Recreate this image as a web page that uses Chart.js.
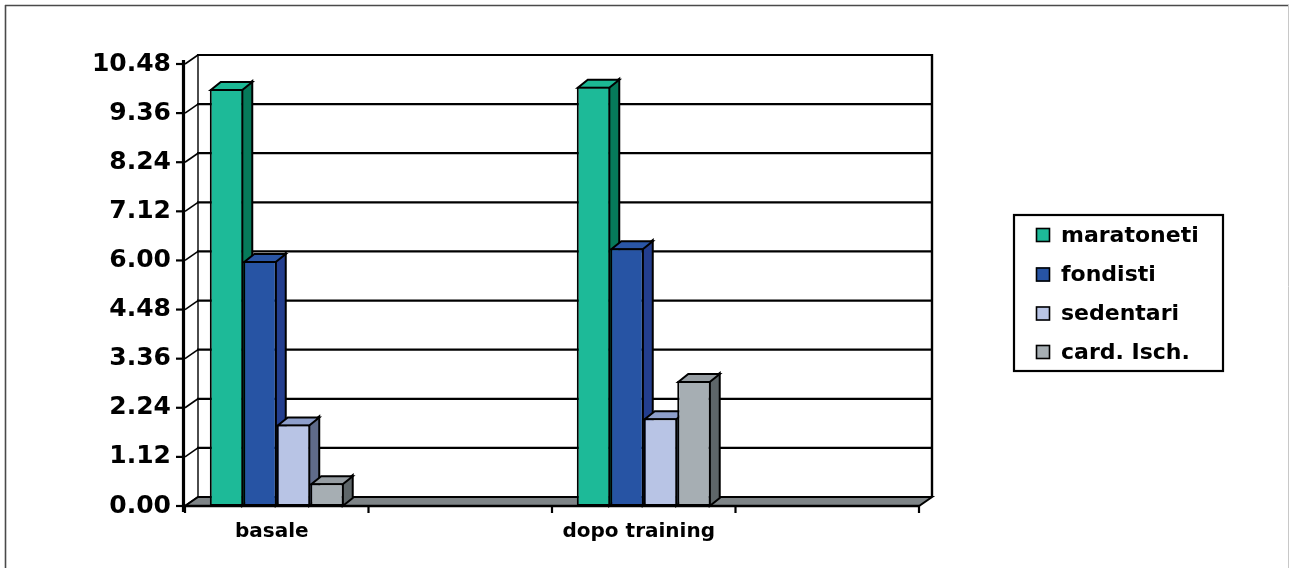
<!DOCTYPE html>
<html>
<head>
<meta charset="utf-8">
<script src="https://cdn.jsdelivr.net/npm/chart.js@4.4.1/dist/chart.umd.min.js"></script>
<style>
  html, body { margin: 0; padding: 0; background: #fff; }
  canvas { display: block; }
</style>
</head>
<body>
<canvas id="chart" width="1289" height="568"></canvas>
<script>
// Categories along the floor (two groups, with empty slots after each)
const categories = ['basale', '', 'dopo training', ''];
const seriesNames = ['maratoneti', 'fondisti', 'sedentari', 'card. Isch.'];

// Series values per category
const maratoneti = [9.91, null, 9.96, null];
const fondisti   = [5.98, null, 6.28, null];
const sedentari  = [1.86, null, 2.00, null];
const cardIsch   = [0.52, null, 2.85, null];

// Value-axis tick labels (evenly spaced on the wall)
const yTicks = [0, 1.12, 2.24, 3.36, 4.48, 6.00, 7.12, 8.24, 9.36, 10.48];

// Face colours for the extruded bars
const frontColors = ['#1DBA98', '#2754A4', '#B8C4E5', '#A6AEB3'];
const sideColors  = ['#067A5A', '#233E8E', '#5F6B8A', '#5E6669'];
const topColors   = ['#1CB894', '#2A56A6', '#8E9FCB', '#969DA2'];

const FONT = 'DejaVu Sans';
const WALL = { dx: 13, dy: -9 };   // depth of the back wall
const DEPTH = { dx: 10, dy: -8 };  // depth of each bar

// Value scale whose ticks sit at equal spacing, linear between neighbouring ticks
class SegmentScale extends Chart.LinearScale {
  determineDataLimits() {
    this.min = yTicks[0];
    this.max = yTicks[yTicks.length - 1];
  }
  buildTicks() {
    return yTicks.map(v => ({ value: v }));
  }
  decimalFor(v) {
    const n = yTicks.length - 1;
    if (v <= yTicks[0]) return (v - yTicks[0]) / (yTicks[1] - yTicks[0]) / n;
    for (let i = 0; i < n; i++) {
      if (v <= yTicks[i + 1] || i === n - 1) {
        return (i + (v - yTicks[i]) / (yTicks[i + 1] - yTicks[i])) / n;
      }
    }
    return 1;
  }
  getPixelForValue(v) {
    if (v === null || v === undefined || isNaN(v)) return NaN;
    return this.getPixelForDecimal(this.decimalFor(v));
  }
  getValueForPixel(p) {
    const n = yTicks.length - 1;
    const d = this.getDecimalForPixel(p) * n;
    const i = Math.min(Math.max(Math.floor(d), 0), n - 1);
    return yTicks[i] + (d - i) * (yTicks[i + 1] - yTicks[i]);
  }
}
SegmentScale.id = 'segment';
SegmentScale.defaults = Chart.LinearScale.defaults;
Chart.register(SegmentScale);

function poly(ctx, pts, fill) {
  ctx.beginPath();
  ctx.moveTo(pts[0][0], pts[0][1]);
  for (let k = 1; k < pts.length; k++) ctx.lineTo(pts[k][0], pts[k][1]);
  ctx.closePath();
  if (fill) { ctx.fillStyle = fill; ctx.fill(); }
  ctx.stroke();
}

function line(ctx, x1, y1, x2, y2, w, color) {
  ctx.beginPath();
  ctx.lineWidth = w;
  ctx.strokeStyle = color || '#000';
  ctx.moveTo(x1, y1);
  ctx.lineTo(x2, y2);
  ctx.stroke();
}

const scene = {
  id: 'scene',
  beforeDatasetsDraw(chart) {
    const { ctx, chartArea: a, scales: { x, y } } = chart;
    ctx.save();
    ctx.lineCap = 'butt';
    const bx = a.left + WALL.dx, ex = a.right + WALL.dx;

    // wall gridlines, corner diagonals and tick marks
    y.ticks.forEach((t, i) => {
      const py = y.getPixelForTick(i);
      if (i > 0) line(ctx, bx - 1, py + WALL.dy, ex, py + WALL.dy, 2.2);
      line(ctx, a.left, py, bx, py + WALL.dy, 1.6);
      line(ctx, a.left - 9, py, a.left, py, 2.2);
    });
    const wallTop = y.getPixelForValue(yTicks[yTicks.length - 1]) + WALL.dy;
    const wallBot = y.getPixelForValue(yTicks[0]) + WALL.dy;
    line(ctx, bx, wallTop, bx, wallBot, 1.4);
    line(ctx, ex, wallTop - 1, ex, wallBot, 2.4);

    // floor
    ctx.lineWidth = 2;
    ctx.strokeStyle = '#000';
    ctx.lineJoin = 'miter';
    poly(ctx, [[a.left, a.bottom], [a.right, a.bottom], [ex, a.bottom + WALL.dy], [bx, a.bottom + WALL.dy]], '#7E8487');

    // value axis line and category axis
    line(ctx, a.left - 1.5, y.getPixelForTick(yTicks.length - 1) - 4, a.left - 1.5, a.bottom + 6, 3.2);
    line(ctx, a.left, a.bottom, a.right, a.bottom, 2.4);
    const catW = (a.right - a.left) / categories.length;
    for (let k = 0; k <= categories.length; k++) {
      const px = a.left + k * catW;
      line(ctx, px, a.bottom, px, a.bottom + 7, 2.2);
    }

    // side and top faces of every bar, series left to right,
    // before the library paints the front faces over them
    ctx.lineWidth = 2;
    ctx.strokeStyle = '#000';
    chart.data.datasets.forEach((ds, i) => {
      const meta = chart.getDatasetMeta(i);
      meta.data.forEach((bar, j) => {
        if (ds.data[j] === null || ds.data[j] === undefined) return;
        const { x: cx, y: top, base, width } = bar.getProps(['x', 'y', 'base', 'width'], true);
        const l = cx - width / 2, r = cx + width / 2;
        poly(ctx, [[r - 1, base], [r - 1 + DEPTH.dx, base + DEPTH.dy], [r - 1 + DEPTH.dx, top + DEPTH.dy], [r - 1, top]], sideColors[i]);
        poly(ctx, [[l + 1, top + 1], [l + 1 + DEPTH.dx, top + 1 + DEPTH.dy], [r - 1 + DEPTH.dx, top + 1 + DEPTH.dy], [r - 1, top + 1]], topColors[i]);
      });
    });
    ctx.restore();
  },
  afterDraw(chart) {
    const { ctx } = chart;
    ctx.save();
    // outer frame
    line(ctx, 5.5, 5, 5.5, 568, 1.6, '#4a4a4a');
    line(ctx, 5, 5.5, 1289, 5.5, 1.6, '#4a4a4a');
    line(ctx, 1288.5, 5, 1288.5, 568, 1, '#c8c8c8');

    // legend
    const box = { x: 1014, y: 215, w: 209, h: 156 };
    ctx.lineWidth = 2.2;
    ctx.strokeStyle = '#000';
    ctx.strokeRect(box.x, box.y, box.w, box.h);
    const rows = [235, 274.5, 313.5, 352];
    ctx.font = 'bold 22px "' + FONT + '"';
    ctx.textBaseline = 'middle';
    ctx.textAlign = 'left';
    chart.data.datasets.forEach((ds, i) => {
      const cy = rows[i];
      ctx.fillStyle = ds.backgroundColor;
      ctx.fillRect(1036, cy - 7, 14, 14);
      ctx.lineWidth = 1.6;
      ctx.strokeRect(1036.5, cy - 6.5, 13, 13);
      ctx.fillStyle = '#000';
      ctx.fillText(ds.label, 1061, cy + 1);
    });
    ctx.restore();
  }
};

const seriesData = [maratoneti, fondisti, sedentari, cardIsch];
const datasets = seriesData.map((d, i) => ({
  label: seriesNames[i],
  data: d,
  backgroundColor: frontColors[i],
  borderColor: '#000',
  borderWidth: 2,
  borderSkipped: false,
  categoryPercentage: 0.73,
  barPercentage: 1.0,
  clip: false
}));

new Chart(document.getElementById('chart'), {
  type: 'bar',
  data: { labels: categories, datasets },
  options: {
    responsive: false,
    animation: false,
    devicePixelRatio: 1,
    events: [],
    layout: { padding: { top: 64, right: 370, left: 0, bottom: 0 } },
    plugins: { legend: { display: false }, tooltip: { enabled: false } },
    scales: {
      x: {
        grid: { display: false, drawTicks: false },
        border: { display: false },
        ticks: {
          font: { family: FONT, weight: 'bold', size: 20 },
          color: '#000', padding: 14, maxRotation: 0, autoSkip: false,
          labelOffset: -5
        },
        afterFit(s) { s.height = 62; }
      },
      y: {
        type: 'segment',
        grid: { display: false, drawTicks: false },
        border: { display: false },
        ticks: {
          font: { family: FONT, weight: 'bold', size: 25 },
          color: '#000', padding: 14,
          callback: v => v.toFixed(2)
        },
        afterFit(s) { s.width = 185; }
      }
    }
  },
  plugins: [scene]
});
</script>
</body>
</html>
